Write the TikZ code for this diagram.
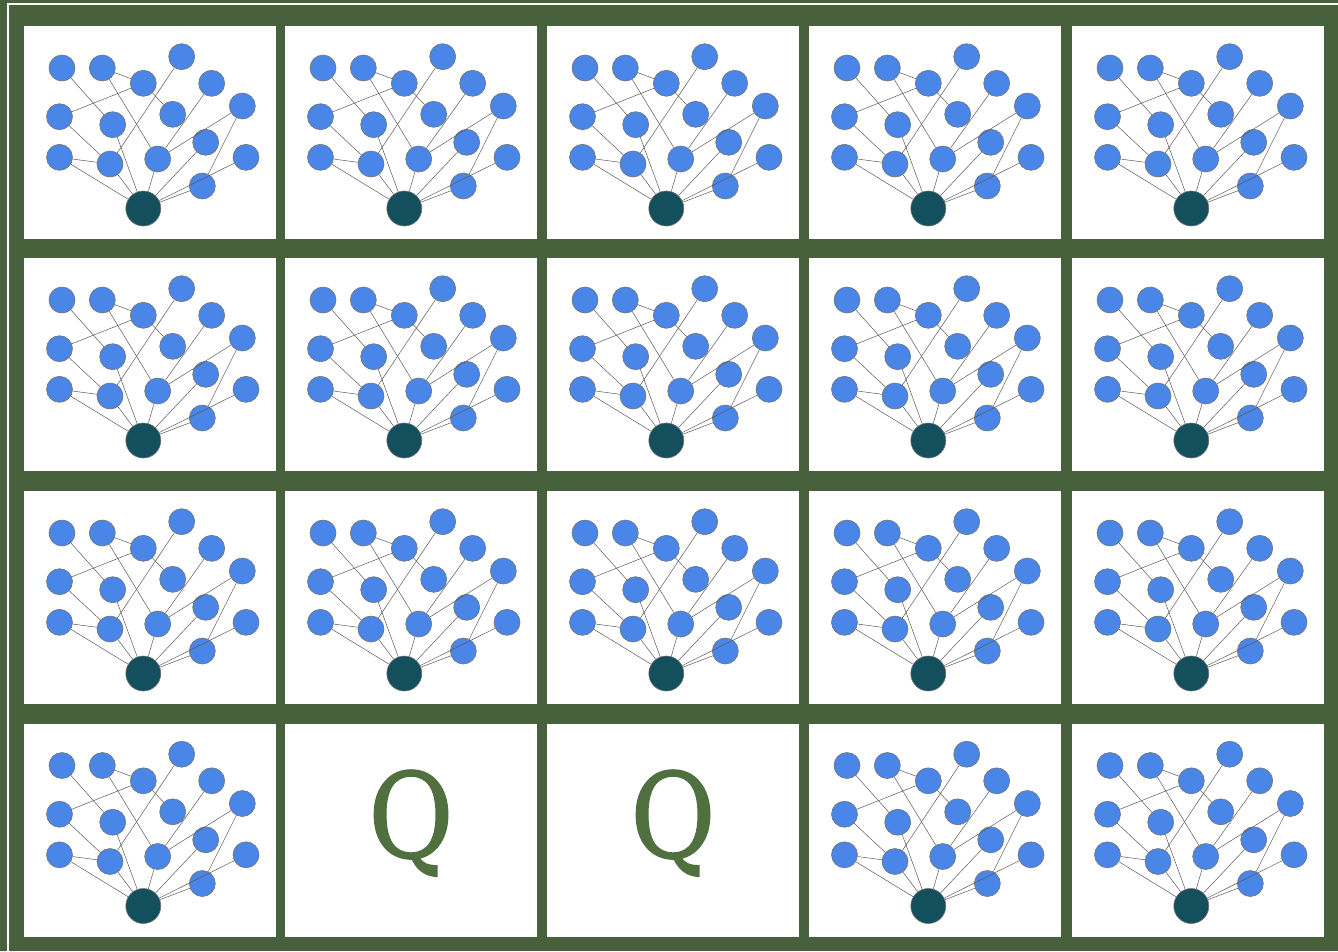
\documentclass[tikz,border=0pt]{standalone}
\usepackage{fontspec}
\newfontfamily\qfont[FakeBold=1.2]{DejaVu Serif}
\definecolor{framegreen}{HTML}{48613D}
\definecolor{qgreen}{HTML}{507040}
\definecolor{nodeblue}{HTML}{4A86E8}
\definecolor{rootteal}{HTML}{134F5C}
\definecolor{edgegray}{HTML}{5A5A5A}
\tikzset{
  leaf/.style={circle, fill=nodeblue, draw=black!55, line width=0.6pt, minimum size=26pt, inner sep=0pt},
  rootnode/.style={circle, fill=rootteal, draw=black!55, line width=0.6pt, minimum size=35pt, inner sep=0pt},
  link/.style={draw=edgegray, line width=0.5pt},
  cellbox/.style={fill=white, draw=none, anchor=north west, minimum width=252pt, minimum height=213pt, inner sep=0pt, outer sep=0pt},
  qtext/.style={font=\qfont\fontsize{118}{118}\selectfont, text=qgreen, inner sep=0pt, anchor=base}
}
\newcommand\graphcell[3]{%
  \begin{scope}[shift={(#1,#2)}, name prefix=#3-]
    \node[cellbox] (cell) at (0,0) {};
    \node[leaf] (A) at (38,42) {};
    \node[leaf] (B) at (78.3,42) {};
    \node[leaf] (C) at (119.3,57.3) {};
    \node[leaf] (D) at (157.7,30.7) {};
    \node[leaf] (E) at (187.7,57.3) {};
    \node[leaf] (F) at (218.3,80) {};
    \node[leaf] (G) at (35.5,90.7) {};
    \node[leaf] (H) at (88.7,98.7) {};
    \node[leaf] (I) at (148.7,88.3) {};
    \node[leaf] (J) at (181.7,116.3) {};
    \node[leaf] (K) at (35.5,131.3) {};
    \node[leaf] (L) at (86,138) {};
    \node[leaf] (M) at (133.7,133) {};
    \node[leaf] (N) at (222,131.3) {};
    \node[leaf] (O) at (178.3,160) {};
    \node[rootnode] (R) at (119.3,182.5) {};
    \draw[link] (A) -- (H);
    \draw[link] (B) -- (C);
    \draw[link] (B) -- (M);
    \draw[link] (C) -- (G);
    \draw[link] (C) -- (I);
    \draw[link] (D) -- (L);
    \draw[link] (E) -- (M);
    \draw[link] (F) -- (M);
    \draw[link] (F) -- (O);
    \draw[link] (G) -- (L);
    \draw[link] (K) -- (L);
    \draw[link] (H) -- (R);
    \draw[link] (K) -- (R);
    \draw[link] (L) -- (R);
    \draw[link] (M) -- (R);
    \draw[link] (J) -- (R);
    \draw[link] (N) -- (R);
    \draw[link] (O) -- (R);
  \end{scope}}
\newcommand\qcell[3]{%
  \begin{scope}[shift={(#1,#2)}, name prefix=#3-]
    \node[cellbox] (cell) at (0,0) {};
    \node[qtext] (q) at (126,134) {\scalebox{0.88}[1]{Q}};
  \end{scope}}
\begin{document}
\begin{tikzpicture}[x=1pt,y=-1pt]
  \useasboundingbox (0,0) rectangle (1338,951);
  \fill[framegreen] (0,0) rectangle (1338,951);
  \draw[white, line width=2pt] (7.5,952) -- (7.5,4) -- (1340,4);
  \draw[white, line width=1pt] (1338,4) -- (1338,952);
  % row 1
  \graphcell{24}{26}{c11}
  \graphcell{285}{26}{c12}
  \graphcell{547}{26}{c13}
  \graphcell{809}{26}{c14}
  \graphcell{1072}{26}{c15}
  % row 2
  \graphcell{24}{258}{c21}
  \graphcell{285}{258}{c22}
  \graphcell{547}{258}{c23}
  \graphcell{809}{258}{c24}
  \graphcell{1072}{258}{c25}
  % row 3
  \graphcell{24}{491}{c31}
  \graphcell{285}{491}{c32}
  \graphcell{547}{491}{c33}
  \graphcell{809}{491}{c34}
  \graphcell{1072}{491}{c35}
  % row 4
  \graphcell{24}{723.5}{c41}
  \qcell{285}{723.5}{c42}
  \qcell{547}{723.5}{c43}
  \graphcell{809}{723.5}{c44}
  \graphcell{1072}{723.5}{c45}
\end{tikzpicture}
\end{document}
